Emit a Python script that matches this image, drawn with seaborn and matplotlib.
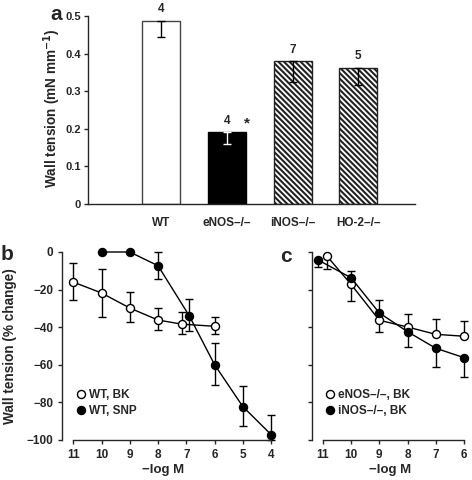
import matplotlib
matplotlib.use("Agg")
import matplotlib.pyplot as plt
import seaborn as sns
import numpy as np
import pandas as pd
from matplotlib.lines import Line2D

# ---------------- data ----------------
# panel a
genotypes = ["WT", "eNOS\u2013/\u2013", "iNOS\u2013/\u2013", "HO-2\u2013/\u2013"]
tension = [0.4875, 0.1906, 0.380, 0.3626]
tension_low = [0.443, 0.1596, 0.325, 0.316]
n_labels = ["4", "4", "7", "5"]

# panel b
bk_x = [11, 10, 9, 8, 7.15, 6]
bk_y = [-16, -21.8, -29.8, -36.2, -38.4, -39.5]
bk_lo = [-25.4, -34.7, -37.3, -41.6, -43.7, -43.4]
bk_hi = [-5.9, -8.8, -21.5, -29.7, -31.7, -34.4]
snp_x = [10, 9, 8, 6.9, 6, 5, 4]
snp_y = [0, 0, -7.3, -33.8, -59.9, -82.2, -97.1]
snp_lo = [0, 0, -14.2, -42, -70.5, -92.3, -100]
snp_hi = [0, 0, 0, -25.2, -48.2, -71.2, -86.5]

# panel c
enos_x = [10.86, 10, 9, 8, 7, 6]
enos_y = [-2.1, -17.2, -36.3, -39.9, -43.8, -44.8]
enos_lo = [-9.2, -26, -42.7, -39.9, -43.8, -44.8]
enos_hi = [-2.1, -17.2, -36.3, -32.8, -35.5, -36.7]
inos_x = [11.16, 10, 9, 8, 7, 6]
inos_y = [-4.3, -13.7, -32.4, -42.4, -51.2, -56.2]
inos_lo = [-8.1, -13.7, -32.4, -50.4, -61.2, -66.6]
inos_hi = [-4.3, -9.9, -25.7, -42.4, -51.2, -56.2]

b_ticks = [11, 10, 9, 8, 7, 6, 5, 4]
c_ticks = [11, 10, 9, 8, 7, 6]
y_ticks_b = [0, -20, -40, -60, -80, -100]
y_ticks_a = [0, 0.1, 0.2, 0.3, 0.4, 0.5]

# ---------------- style ----------------
sns.set_theme(style="ticks")
plt.rcParams["font.family"] = ["Liberation Sans", "DejaVu Sans"]
plt.rcParams["font.weight"] = "bold"
plt.rcParams["axes.labelweight"] = "bold"
plt.rcParams["hatch.linewidth"] = 1.5
plt.rcParams["hatch.color"] = "black"
plt.rcParams["axes.linewidth"] = 1.0
plt.rcParams["xtick.major.width"] = 1.0
plt.rcParams["ytick.major.width"] = 1.0
plt.rcParams["xtick.major.size"] = 3.2
plt.rcParams["ytick.major.size"] = 3.2

TICK_FS = 8.5
LABEL_FS = 9.8

W, H = 472, 480
fig = plt.figure(figsize=(W / 100, H / 100), dpi=100)

def box(l, t, r, b):
    return [l / W, 1 - b / H, (r - l) / W, (b - t) / H]

ax_a = fig.add_axes(box(88, 16, 415, 204))
ax_b = fig.add_axes(box(62, 252, 275, 440))
ax_c = fig.add_axes(box(311.5, 252, 468, 440))

# ---------------- panel a ----------------
df_a = pd.DataFrame({"genotype": genotypes, "tension": tension})
sns.barplot(data=df_a, x="genotype", y="tension", hue="genotype",
            palette=["white", "black", "white", "white"], legend=False,
            width=0.58, ax=ax_a, errorbar=None, saturation=1,
            edgecolor="#444444", linewidth=1.0)
for i, p in enumerate(ax_a.patches):
    if i >= 2:
        p.set_hatch("\\" * 6)
        p.set_edgecolor("#222222")
        if hasattr(p, "set_hatchcolor"):
            p.set_hatchcolor("black")
    if i == 1:
        p.set_edgecolor("black")
for i, (v, lo) in enumerate(zip(tension, tension_low)):
    ecol = "white" if i == 1 else "black"
    ax_a.errorbar(i, v, yerr=[[v - lo], [0]], fmt="none", ecolor=ecol,
                  elinewidth=1.0, capsize=3, capthick=1.0, zorder=3)
    ax_a.annotate(n_labels[i], (i, v), xytext=(0, 4), textcoords="offset points",
                  ha="center", va="bottom", fontsize=8.5, fontweight="bold")
ax_a.annotate("*", (1.3, tension[1]), xytext=(0, 1), textcoords="offset points",
              ha="center", va="bottom", fontsize=11, fontweight="bold")
ax_a.set_xlim(-1.11, 3.86)
ax_a.set_ylim(0, 0.5)
ax_a.set_yticks(y_ticks_a)
ax_a.set_yticklabels(["0", "0.1", "0.2", "0.3", "0.4", "0.5"])
ax_a.tick_params(axis="x", length=0, pad=9, labelsize=TICK_FS)
ax_a.tick_params(axis="y", labelsize=8, pad=2)
ax_a.set_xlabel("")
ax_a.set_ylabel("")
for s in ["top", "right"]:
    ax_a.spines[s].set_visible(False)
for lab in ax_a.get_xticklabels() + ax_a.get_yticklabels():
    lab.set_fontweight("bold")

# ---------------- line panels ----------------
MS = 5.8

def draw_series(ax, xs, ys, lo, hi, filled, z):
    ys_a = np.array(ys)
    yerr = [ys_a - np.array(lo), np.array(hi) - ys_a]
    ax.errorbar(xs, ys, yerr=yerr, fmt="none", ecolor="black", elinewidth=1.0,
                capsize=3, capthick=1.0, zorder=z, clip_on=False)
    sns.lineplot(x=xs, y=ys, ax=ax, color="black", linewidth=1.0, marker="o",
                 markersize=MS, markerfacecolor="black" if filled else "white",
                 markeredgecolor="black", markeredgewidth=1.0, zorder=z + 0.5,
                 clip_on=False, sort=False)

draw_series(ax_b, snp_x, snp_y, snp_lo, snp_hi, True, 2)
draw_series(ax_b, bk_x, bk_y, bk_lo, bk_hi, False, 4)
draw_series(ax_c, enos_x, enos_y, enos_lo, enos_hi, False, 2)
draw_series(ax_c, inos_x, inos_y, inos_lo, inos_hi, True, 4)

for ax, ticks, xmax in [(ax_b, b_ticks, 3.86), (ax_c, c_ticks, 5.86)]:
    ax.set_xlim(11.4, xmax)
    ax.set_ylim(-100, 0)
    ax.set_xticks(ticks)
    ax.set_xticklabels([str(t) for t in ticks])
    ax.set_yticks(y_ticks_b)
    ax.spines["top"].set_visible(False)
    ax.spines["right"].set_visible(False)
    ax.spines["bottom"].set_bounds(ticks[-1], ticks[0])
    ax.spines["left"].set_bounds(-100, 0)
    ax.tick_params(labelsize=TICK_FS, pad=3)
    ax.set_xlabel("")
    ax.set_ylabel("")
    for lab in ax.get_xticklabels() + ax.get_yticklabels():
        lab.set_fontweight("bold")
ax_b.set_yticklabels(["0", "\u221220", "\u221240", "\u221260", "\u221280", "\u2212100"])
ax_c.set_yticklabels([])

def legend(ax, labels, anchor):
    handles = [Line2D([], [], linestyle="none", marker="o", markersize=MS,
                      markerfacecolor="white", markeredgecolor="black", markeredgewidth=1.0),
               Line2D([], [], linestyle="none", marker="o", markersize=MS,
                      markerfacecolor="black", markeredgecolor="black", markeredgewidth=1.0)]
    leg = ax.legend(handles, labels, loc="center left", bbox_to_anchor=anchor,
                    frameon=False, handlelength=0.8, handletextpad=0.3,
                    labelspacing=0.3, borderpad=0, borderaxespad=0,
                    prop={"size": 8.5, "weight": "bold"})
    return leg

legend(ax_b, ["WT, BK", "WT, SNP"], (0.065, 0.197))
legend(ax_c, ["eNOS\u2013/\u2013, BK", "iNOS\u2013/\u2013, BK"], (0.085, 0.197))

# ---------------- texts ----------------
def ftext(x, y, s, **kw):
    fig.text(x / W, 1 - y / H, s, **kw)

ftext(56, 15, "a", fontsize=15, fontweight="bold", ha="center", va="center")
ftext(7, 255, "b", fontsize=15, fontweight="bold", ha="center", va="center")
ftext(286, 256, "c", fontsize=15, fontweight="bold", ha="center", va="center")
ftext(52, 108, "Wall tension (mN mm$^{\\mathbf{-1}}$)", fontsize=LABEL_FS,
      fontweight="bold", rotation=90, ha="center", va="center")
ftext(10, 346, "Wall tension (% change)", fontsize=LABEL_FS, fontweight="bold",
      rotation=90, ha="center", va="center")
ftext(163, 470, "\u2212log M", fontsize=9.5, fontweight="bold", ha="center", va="center")
ftext(390, 470, "\u2212log M", fontsize=9.5, fontweight="bold", ha="center", va="center")

fig.savefig("out.png", dpi=100)
